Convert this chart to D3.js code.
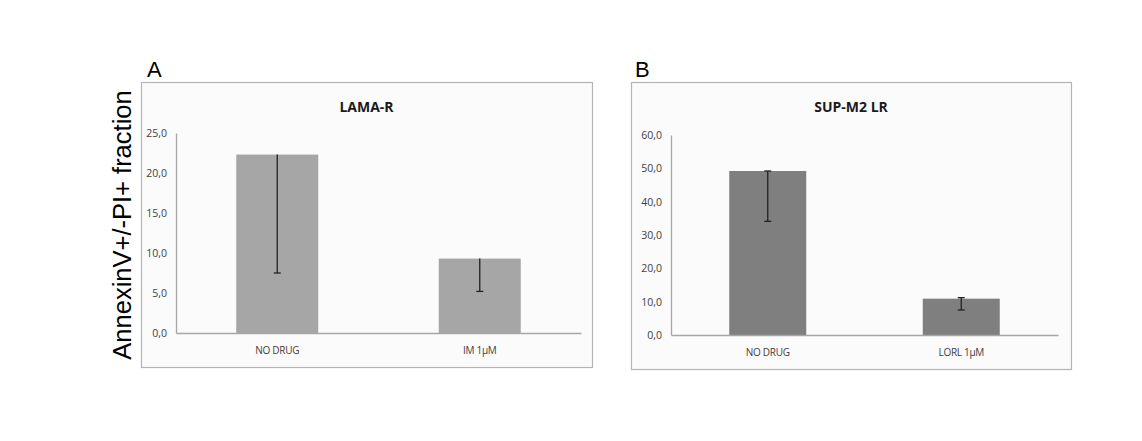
<!DOCTYPE html>
<html><head><meta charset="utf-8">
<script src="https://cdn.jsdelivr.net/npm/d3@7"></script>
<style>body{margin:0;background:#fff;}svg{display:block;}</style>
</head><body>
<svg id="c" width="1142" height="441"></svg>
<script>
// ---- data ----
const panelLetters = ["A", "B"];
const titles = ["LAMA-R", "SUP-M2 LR"];
const catsA = ["NO DRUG", "IM 1µM"];
const valuesA = [22.3, 9.3];
const errLowA = [14.8, 4.1];
const errHighA = [0, 0];
const ticksA = [0, 5, 10, 15, 20, 25];
const catsB = ["NO DRUG", "LORL 1µM"];
const valuesB = [49.2, 10.9];
const errLowB = [15.1, 3.4];
const errHighB = [0, 0.3];
const ticksB = [0, 10, 20, 30, 40, 50, 60];
const yLabel = "AnnexinV+/-PI+ fraction";

const svg = d3.select("#c");
const fmt = d => d.toFixed(1).replace(".", ",");

const panels = [
  {letter: panelLetters[0], title: titles[0], cats: catsA, vals: valuesA, lo: errLowA, hi: errHighA, ticks: ticksA,
   frame: [141, 82, 592, 367], lx: 147, x0: 176, x1: 581, yTop: 133, yBase: 333, bw: 82, color: "#a6a6a6", topCap: false, catY: 354},
  {letter: panelLetters[1], title: titles[1], cats: catsB, vals: valuesB, lo: errLowB, hi: errHighB, ticks: ticksB,
   frame: [631, 82, 1071, 369], lx: 635, x0: 671, x1: 1058, yTop: 135, yBase: 335, bw: 77, color: "#7f7f7f", topCap: true, catY: 356}
];

panels.forEach(p => {
  const g = svg.append("g");
  const [fx0, fy0, fx1, fy1] = p.frame;
  g.append("rect").attr("x", fx0 + 0.5).attr("y", fy0 + 0.5).attr("width", fx1 - fx0).attr("height", fy1 - fy0)
    .attr("fill", "#fbfbfb").attr("stroke", "#b4b4b4").attr("stroke-width", 1.2);
  g.append("text").attr("x", p.lx).attr("y", 77).text(p.letter)
    .attr("font-family", "Liberation Sans, Arial, sans-serif").attr("font-size", 22).attr("fill", "#000");
  g.append("text").attr("x", (fx0 + fx1) / 2).attr("y", 112).attr("text-anchor", "middle").text(p.title)
    .attr("font-family", "Open Sans, sans-serif").attr("font-weight", "bold").attr("font-size", 14).attr("fill", "#1a1a1a");

  const maxT = p.ticks[p.ticks.length - 1];
  const y = d3.scaleLinear().domain([0, maxT]).range([p.yBase, p.yTop]);
  const step = (p.x1 - p.x0) / p.cats.length;
  const pi = 1 - p.bw / step;
  const x = d3.scaleBand().domain(p.cats).range([p.x0, p.x1]).paddingInner(pi).paddingOuter(pi / 2);

  // y axis
  const ya = g.append("g").attr("transform", `translate(${p.x0},0)`)
    .call(d3.axisLeft(y).tickValues(p.ticks).tickFormat(fmt).tickSize(0).tickPadding(9));
  ya.select(".domain").attr("stroke", "#a6a6a6").attr("stroke-width", 1.3);
  ya.selectAll("text").attr("font-family", "Open Sans, sans-serif").attr("font-size", 10.5).attr("fill", "#404040");

  // bars
  g.selectAll(".bar").data(p.cats).enter().append("rect")
    .attr("x", d => x(d)).attr("width", x.bandwidth())
    .attr("y", (d, i) => y(p.vals[i])).attr("height", (d, i) => y(0) - y(p.vals[i]))
    .attr("fill", p.color);

  // x axis
  const xa = g.append("g").attr("transform", `translate(0,${p.yBase})`)
    .call(d3.axisBottom(x).tickSize(0).tickPadding(14));
  xa.select(".domain").attr("stroke", "#a6a6a6").attr("stroke-width", 1.3);
  xa.selectAll("text").attr("font-family", "Open Sans, sans-serif").attr("font-size", 10).attr("fill", "#404040")
    .attr("letter-spacing", "-0.3");

  // error bars
  p.cats.forEach((c, i) => {
    const cx = x(c) + x.bandwidth() / 2;
    const yl = y(p.vals[i] - p.lo[i]);
    const yh = y(p.vals[i] + p.hi[i]);
    g.append("line").attr("x1", cx).attr("x2", cx).attr("y1", yh).attr("y2", yl).attr("stroke", "#222").attr("stroke-width", 1.3);
    g.append("line").attr("x1", cx - 3.5).attr("x2", cx + 3.5).attr("y1", yl).attr("y2", yl).attr("stroke", "#222").attr("stroke-width", 1.3);
    if (p.topCap) g.append("line").attr("x1", cx - 3.5).attr("x2", cx + 3.5).attr("y1", yh).attr("y2", yh).attr("stroke", "#222").attr("stroke-width", 1.3);
  });
});

// shared y label
svg.append("text").attr("transform", "translate(131,225) rotate(-90)").attr("text-anchor", "middle")
  .attr("font-family", "Liberation Sans, Arial, sans-serif").attr("font-size", 25.5).attr("fill", "#000").text(yLabel);
</script>
</body></html>
